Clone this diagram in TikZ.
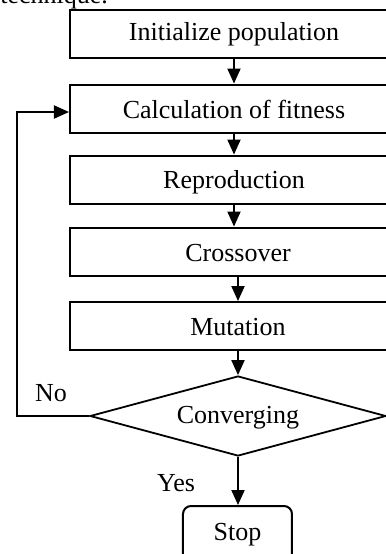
\documentclass[tikz,border=0pt]{standalone}
\usepackage{fontspec}
\setmainfont{Liberation Serif}
\usetikzlibrary{shapes.geometric,arrows.meta}
\begin{document}
\begin{tikzpicture}[x=0.5pt,y=-0.5pt,
  font=\fontsize{13}{15}\selectfont,
  stepbox/.style={draw, line width=1pt, minimum width=164pt, minimum height=24pt, inner sep=0pt},
  decision/.style={draw, diamond, line width=0.9pt, minimum width=148pt, minimum height=40pt, inner sep=0pt, aspect=3.7},
  endbox/.style={draw, line width=1pt, rounded corners=4pt, minimum width=54.5pt, minimum height=29pt, inner sep=0pt},
  flow/.style={line width=1pt, -{Triangle[length=7.5pt,width=6.5pt]}},
  lbl/.style={inner sep=0pt}]
\useasboundingbox (0,0) rectangle (386,554);
\clip (0,0) rectangle (386,554);

% tail of the preceding paragraph
\node[lbl, anchor=base west] (prev) at (0,3) {technique.};

% process steps
\node[stepbox] (init)  at (234,34)    {};
\node[lbl] (initt) at (234,34) {Initialize population};
\node[stepbox] (fit)   at (234,108.5) {};
\node[lbl] (fitt) at (234,109) {Calculation of fitness};
\node[stepbox] (repr)  at (234,179.5) {};
\node[lbl] (reprt) at (234,182) {Reproduction};
\node[stepbox] (cross) at (234,251.5) {};
\node[lbl] (crosst) at (238,253) {Crossover};
\node[stepbox] (mut)   at (234,326)   {};
\node[lbl] (mutt) at (238,327) {Mutation};

% decision and end
\node[decision] (conv) at (238,416) {};
\node[lbl] (convt) at (238,418) {Converging};
\node[endbox] (stop) at (237.5,535) {};
\node[lbl] (stopt) at (237.5,535) {Stop};

% connectors
\coordinate (c1) at (17,416);
\coordinate (c2) at (17,112);
\draw[flow] (init.south) -- (fit.north);
\draw[flow] (fit.south) -- (repr.north);
\draw[flow] (repr.south) -- (cross.north);
\draw[flow] (cross.south -| conv.north) -- (mut.north -| conv.north);
\draw[flow] (mut.south -| conv.north) -- (conv.north);
\draw[flow] (conv.south) -- (stop.north -| conv.south);
\draw[flow] (conv.west) -- (c1) -- (c2) -- (c2 -| fit.west);

% branch labels
\node[lbl] (no)  at (51,393)  {No};
\node[lbl] (yes) at (176,483) {Yes};
\end{tikzpicture}
\end{document}
